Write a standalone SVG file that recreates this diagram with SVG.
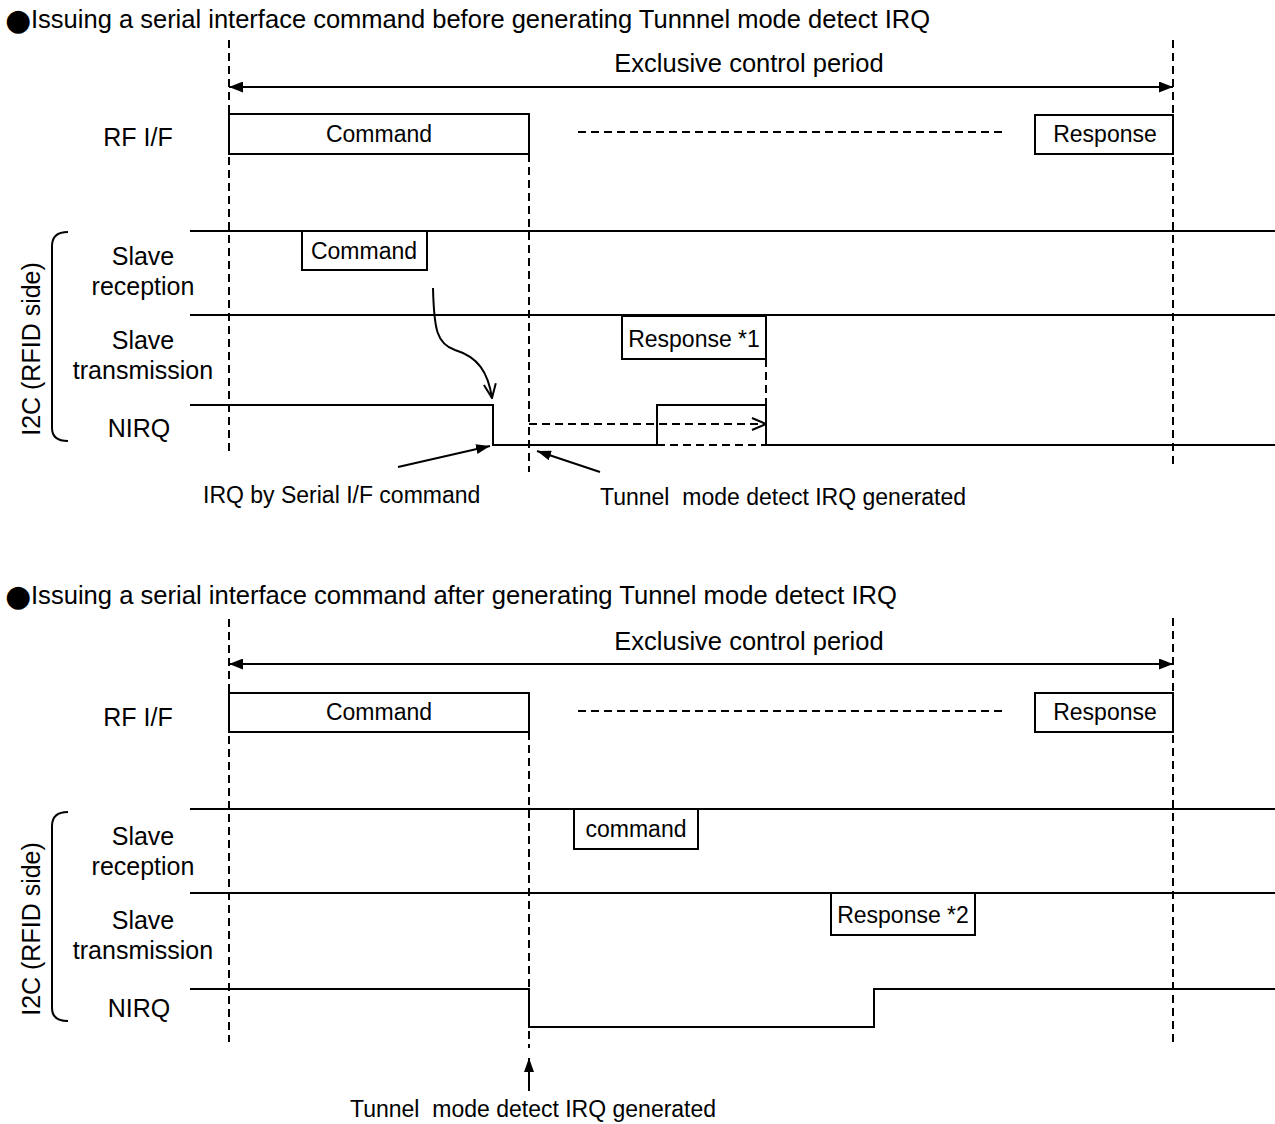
<svg xmlns="http://www.w3.org/2000/svg" width="1275" height="1124" viewBox="0 0 1275 1124">
<style>
.t{font-family:"Liberation Sans",Arial,sans-serif;fill:#000}
.bul{font-family:"DejaVu Sans",sans-serif;font-size:30px;fill:#000}
.h{font-size:25px}
.lbl{font-size:25px;text-anchor:middle}
.ex{font-size:25.5px;text-anchor:middle}
.bt{font-size:23px;text-anchor:middle}
.ann{font-size:23px}
.box{fill:#fff;stroke:#000;stroke-width:2}
.sig{fill:none;stroke:#000;stroke-width:2}
.dash{fill:none;stroke:#000;stroke-width:2;stroke-dasharray:8 5}
.ln{fill:none;stroke:#000;stroke-width:2}
</style>
<defs>
<marker id="fa" viewBox="0 0 14 11" refX="14" refY="5.5" markerWidth="14" markerHeight="11" markerUnits="userSpaceOnUse" orient="auto-start-reverse"><path d="M0,0 L14,5.5 L0,11 z" fill="#000"/></marker>
<marker id="fb" viewBox="0 0 14 10" refX="14" refY="5" markerWidth="14" markerHeight="10" markerUnits="userSpaceOnUse" orient="auto"><path d="M0,0 L14,5 L0,10 z" fill="#000"/></marker>
<marker id="oa" viewBox="0 0 16 14" refX="15" refY="7" markerWidth="16" markerHeight="14" markerUnits="userSpaceOnUse" orient="auto"><path d="M1,1 L15,7 L1,13" fill="none" stroke="#000" stroke-width="2"/></marker>
</defs>

<!-- ===== Section 1 ===== -->
<g id="title1"><text class="bul" x="5" y="30">●</text><text class="t h" x="31" y="28" textLength="899" lengthAdjust="spacingAndGlyphs">Issuing a serial interface command before generating Tunnnel mode detect IRQ</text></g>

<g id="grid1">
<path class="dash" d="M229,40 V452 M1173,40 V466 M529,154 V472 M766,359 V445"/>
<path class="dash" d="M578,132 H1003"/>
<path class="ln" d="M190,231 H1275 M190,315 H1275"/>
</g>

<g id="excl1">
<text class="t ex" x="749" y="72">Exclusive control period</text>
</g>

<g id="rf1-label"><text class="t lbl" x="138" y="146">RF I/F</text></g>
<g id="rf1-command"><rect class="box" x="229" y="114" width="300" height="40"/><text class="t bt" x="379" y="142">Command</text></g>
<g id="rf1-response"><rect class="box" x="1035" y="115" width="138" height="39"/><text class="t bt" x="1105" y="142">Response</text></g>

<g id="i2c1-label">
<path class="ln" d="M68,232 Q52,232 52,246 V428 Q52,441 68,441"/>
<text class="t lbl" transform="translate(40,349) rotate(-90)" x="0" y="0">I2C (RFID side)</text>
</g>
<g id="sr1-label"><text class="t lbl" x="143" y="265">Slave</text><text class="t lbl" x="143" y="295">reception</text></g>
<g id="st1-label"><text class="t lbl" x="143" y="349">Slave</text><text class="t lbl" x="143" y="379">transmission</text></g>
<g id="nirq1-label"><text class="t lbl" x="139" y="437">NIRQ</text></g>

<g id="sr1-command"><rect class="box" x="302" y="231" width="125" height="39"/><text class="t bt" x="364" y="259">Command</text></g>
<g id="st1-response"><rect class="box" x="622" y="316" width="144" height="43"/><text class="t bt" x="694" y="347">Response *1</text></g>

<g id="nirq1">
<path class="sig" d="M190,405 H493 V445 H657 V405 H766 V445 H1275"/>
<path class="dash" d="M657,445 H766"/>
</g>

<g id="note1a"><text class="t ann" x="203" y="503">IRQ by Serial I/F command</text></g>
<g id="note1b"><text class="t ann" x="600" y="505" xml:space="preserve">Tunnel  mode detect IRQ generated</text></g>

<!-- ===== Section 2 ===== -->
<g id="title2"><text class="bul" x="5" y="606">●</text><text class="t h" x="31" y="604" textLength="866" lengthAdjust="spacingAndGlyphs">Issuing a serial interface command after generating Tunnel mode detect IRQ</text></g>

<g id="grid2">
<path class="dash" d="M229,619 V1042 M1173,618 V1044 M529,732 V1048"/>
<path class="dash" d="M578,711 H1003"/>
<path class="ln" d="M190,809 H1275 M190,893 H1275"/>
</g>

<g id="excl2">
<text class="t ex" x="749" y="650">Exclusive control period</text>
</g>

<g id="rf2-label"><text class="t lbl" x="138" y="726">RF I/F</text></g>
<g id="rf2-command"><rect class="box" x="229" y="693" width="300" height="39"/><text class="t bt" x="379" y="720">Command</text></g>
<g id="rf2-response"><rect class="box" x="1035" y="693" width="138" height="39"/><text class="t bt" x="1105" y="720">Response</text></g>

<g id="i2c2-label">
<path class="ln" d="M68,812 Q52,812 52,826 V1008 Q52,1021 68,1021"/>
<text class="t lbl" transform="translate(40,929) rotate(-90)" x="0" y="0">I2C (RFID side)</text>
</g>
<g id="sr2-label"><text class="t lbl" x="143" y="845">Slave</text><text class="t lbl" x="143" y="875">reception</text></g>
<g id="st2-label"><text class="t lbl" x="143" y="929">Slave</text><text class="t lbl" x="143" y="959">transmission</text></g>
<g id="nirq2-label"><text class="t lbl" x="139" y="1017">NIRQ</text></g>

<g id="sr2-command"><rect class="box" x="574" y="809" width="124" height="40"/><text class="t bt" x="636" y="837">command</text></g>
<g id="st2-response"><rect class="box" x="831" y="893" width="144" height="42"/><text class="t bt" x="903" y="923">Response *2</text></g>

<g id="nirq2">
<path class="sig" d="M190,989 H529 V1027 H874 V989 H1275"/>
</g>

<g id="note2"><text class="t ann" x="350" y="1117" xml:space="preserve">Tunnel  mode detect IRQ generated</text></g>

<!-- ===== Connectors ===== -->
<g id="connectors">
<path class="ln" d="M229,87 H1173" marker-start="url(#fa)" marker-end="url(#fa)"/>
<path class="ln" d="M433,288 C434,330 437,344 455,350 C478,357 488,372 492,398" marker-end="url(#oa)"/>
<path class="ln" d="M398,467 L490,446" marker-end="url(#fb)"/>
<path class="ln" d="M600,472 L537,451" marker-end="url(#fb)"/>
<path class="dash" d="M529,424 H766" marker-end="url(#oa)"/>
<path class="ln" d="M229,664 H1173" marker-start="url(#fa)" marker-end="url(#fa)"/>
<path class="ln" d="M529,1091 V1058" marker-end="url(#fb)"/>
</g>
</svg>
